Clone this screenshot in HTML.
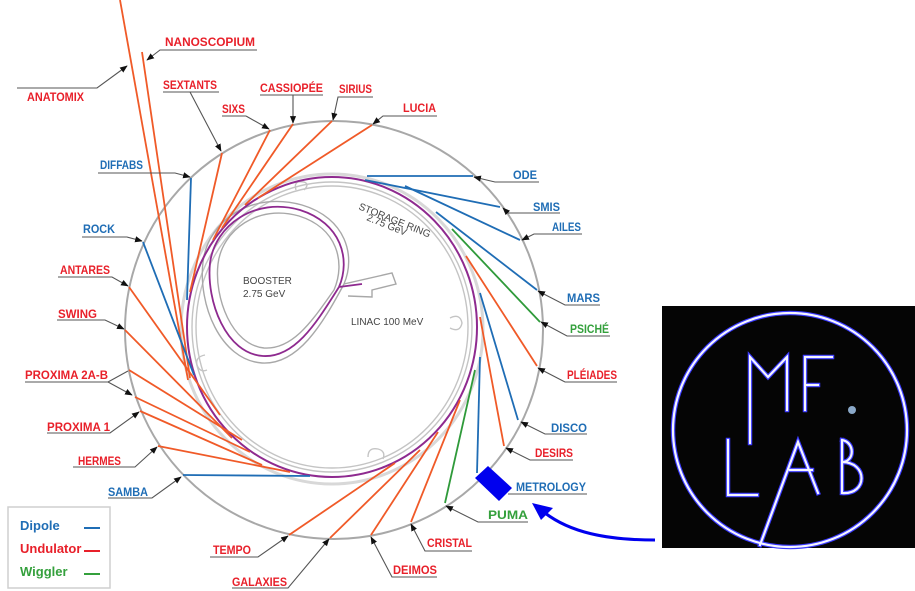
<!DOCTYPE html>
<html><head><meta charset="utf-8"><style>
html,body{margin:0;padding:0;background:#fff;}
svg{display:block;}
.t{font-family:"Liberation Sans",sans-serif;font-weight:bold;font-size:12px;}
.r{fill:#e8202a}.b{fill:#1f6db5}.g{fill:#34a03c}
.ul{stroke:#808080;stroke-width:1.6;fill:none}
.ld{stroke:#555;stroke-width:1.1;fill:none}
.o{stroke:#f05a28;stroke-width:1.8;fill:none}
.bl{stroke:#1f6db5;stroke-width:1.8;fill:none}
.gr{stroke:#2f9a3a;stroke-width:1.8;fill:none}
.gy{stroke:#c4c4c4;stroke-width:1.4;fill:none}
</style></head><body>
<svg width="915" height="591" viewBox="0 0 915 591" xmlns="http://www.w3.org/2000/svg">
<defs>
<marker id="a" viewBox="0 0 10 10" refX="9" refY="5" markerWidth="7" markerHeight="7" orient="auto-start-reverse"><path d="M0,1 L10,5 L0,9 z" fill="#111"/></marker>
</defs>
<rect width="915" height="591" fill="#fff"/>

<circle cx="334" cy="330" r="209" fill="none" stroke="#a8a8a8" stroke-width="2"/>

<ellipse cx="332" cy="327" rx="140" ry="145" class="gy"/>
<ellipse cx="332" cy="327" rx="136" ry="141" class="gy"/>
<ellipse cx="332" cy="329" rx="151" ry="155" stroke="#d8d8d8" stroke-width="3" fill="none"/>
<path d="M296,190 q-3,-10 8,-8 q6,2 0,8" class="gy"/>
<path d="M450,318 q10,-5 12,5 q-2,10 -12,5" class="gy"/>
<path d="M368,457 q0,-10 10,-8 q8,2 5,10" class="gy"/>
<path d="M205,355 q-10,2 -8,10 q3,8 10,5" class="gy"/>

<!-- booster -->
<path d="M344,284 C356,256 346,218 302,205 C252,191 208,220 203,262 C198,304 220,360 262,363 C298,365 322,325 344,284 L392,273 L396,284 L372,290 L372,297 L348,296" stroke="#a8a8a8" stroke-width="1.4" fill="none"/>
<path d="M334,290 C346,262 337,228 299,216 C258,204 222,230 218,264 C214,298 232,345 264,348 C294,350 314,318 334,290" stroke="#a8a8a8" stroke-width="1.4" fill="none"/>
<path d="M339,287 C351,259 341,223 300,210 C255,197 215,225 210,263 C206,301 226,354 263,356 C296,358 318,320 339,287 L362,284" stroke="#8e2a8f" stroke-width="1.8" fill="none"/>

<ellipse cx="332" cy="327" rx="145" ry="150" fill="none" stroke="#8e2a8f" stroke-width="2"/>

<line x1="120" y1="0" x2="188" y2="380" class="o"/>
<line x1="142" y1="52" x2="190" y2="378" class="o"/>

<line x1="222" y1="153" x2="190" y2="292" class="o"/>
<line x1="270" y1="130" x2="213" y2="240" class="o"/>
<line x1="293" y1="124" x2="222" y2="228" class="o"/>
<line x1="332" y1="121" x2="245" y2="205" class="o"/>
<line x1="372" y1="125" x2="258" y2="198" class="o"/>
<line x1="191" y1="178" x2="187" y2="300" class="bl"/>
<line x1="143" y1="242" x2="194" y2="375" class="bl"/>
<line x1="129" y1="287" x2="220" y2="415" class="o"/>
<line x1="125" y1="330" x2="232" y2="438" class="o"/>
<line x1="129" y1="370" x2="242" y2="440" class="o"/>
<line x1="135" y1="397" x2="250" y2="452" class="o"/>
<line x1="140" y1="411" x2="262" y2="465" class="o"/>
<line x1="158" y1="446" x2="290" y2="472" class="o"/>
<line x1="183" y1="475" x2="310" y2="476" class="bl"/>
<line x1="289" y1="535" x2="395" y2="463" class="o"/>
<line x1="330" y1="538" x2="420" y2="450" class="o"/>
<line x1="371" y1="535" x2="438" y2="432" class="o"/>
<line x1="411" y1="522" x2="460" y2="400" class="o"/>
<line x1="445" y1="503" x2="475" y2="370" class="gr"/>
<line x1="477" y1="473" x2="480" y2="357" class="bl"/>
<line x1="504" y1="446" x2="480" y2="317" class="o"/>
<line x1="518" y1="420" x2="480" y2="293" class="bl"/>
<line x1="537" y1="366" x2="466" y2="256" class="o"/>
<line x1="540" y1="322" x2="452" y2="229" class="gr"/>
<line x1="537" y1="290" x2="436" y2="212" class="bl"/>
<line x1="520" y1="240" x2="405" y2="186" class="bl"/>
<line x1="500" y1="207" x2="365" y2="180" class="bl"/>
<line x1="473" y1="176" x2="367" y2="176" class="bl"/>

<g font-family="Liberation Sans,sans-serif" font-size="10" fill="#444">
<text x="243" y="284">BOOSTER</text>
<text x="243" y="297">2.75 GeV</text>
<text x="351" y="325">LINAC 100 MeV</text>
<text transform="translate(358,209) rotate(22)">STORAGE RING</text>
<text transform="translate(366,220) rotate(22)">2.75 GeV</text>
</g>

<g class="t">
<text x="165" y="46" class="r" textLength="90" lengthAdjust="spacingAndGlyphs">NANOSCOPIUM</text>
<path d="M257,50 H160 L147,60" class="ld" marker-end="url(#a)"/>
<text x="27" y="101" class="r" textLength="57" lengthAdjust="spacingAndGlyphs">ANATOMIX</text>
<path d="M17,88 H97 L127,66" class="ld" marker-end="url(#a)"/>
<text x="163" y="89" class="r" textLength="54" lengthAdjust="spacingAndGlyphs">SEXTANTS</text>
<path d="M219,92 H163 M190,92 L221,151" class="ld" marker-end="url(#a)"/>
<text x="222" y="113" class="r" textLength="23" lengthAdjust="spacingAndGlyphs">SIXS</text>
<path d="M246,116 H222 M246,116 L269,129" class="ld" marker-end="url(#a)"/>
<text x="260" y="92" class="r" textLength="63" lengthAdjust="spacingAndGlyphs">CASSIOPÉE</text>
<path d="M260,95 H323 M293,95 L293,123" class="ld" marker-end="url(#a)"/>
<text x="339" y="93" class="r" textLength="33" lengthAdjust="spacingAndGlyphs">SIRIUS</text>
<path d="M373,97 H338 L333,120" class="ld" marker-end="url(#a)"/>
<text x="403" y="112" class="r" textLength="33" lengthAdjust="spacingAndGlyphs">LUCIA</text>
<path d="M437,116 H383 L373,124" class="ld" marker-end="url(#a)"/>
<text x="100" y="169" class="b" textLength="43" lengthAdjust="spacingAndGlyphs">DIFFABS</text>
<path d="M98,173 H175 L190,177" class="ld" marker-end="url(#a)"/>
<text x="83" y="233" class="b" textLength="32" lengthAdjust="spacingAndGlyphs">ROCK</text>
<path d="M82,237 H127 L142,241" class="ld" marker-end="url(#a)"/>
<text x="60" y="274" class="r" textLength="50" lengthAdjust="spacingAndGlyphs">ANTARES</text>
<path d="M58,277 H112 L128,286" class="ld" marker-end="url(#a)"/>
<text x="58" y="318" class="r" textLength="39" lengthAdjust="spacingAndGlyphs">SWING</text>
<path d="M57,320 H105 L124,329" class="ld" marker-end="url(#a)"/>
<text x="25" y="379" class="r" textLength="83" lengthAdjust="spacingAndGlyphs">PROXIMA 2A-B</text>
<path d="M25,382 H108 L128,371 M108,382 L132,395" class="ld" marker-end="url(#a)"/>
<text x="47" y="431" class="r" textLength="63" lengthAdjust="spacingAndGlyphs">PROXIMA 1</text>
<path d="M47,433 H110 L139,412" class="ld" marker-end="url(#a)"/>
<text x="78" y="465" class="r" textLength="43" lengthAdjust="spacingAndGlyphs">HERMES</text>
<path d="M73,467 H135 L157,447" class="ld" marker-end="url(#a)"/>
<text x="108" y="496" class="b" textLength="40" lengthAdjust="spacingAndGlyphs">SAMBA</text>
<path d="M108,498 H152 L181,477" class="ld" marker-end="url(#a)"/>
<text x="213" y="554" class="r" textLength="38" lengthAdjust="spacingAndGlyphs">TEMPO</text>
<path d="M210,557 H258 L288,536" class="ld" marker-end="url(#a)"/>
<text x="232" y="586" class="r" textLength="55" lengthAdjust="spacingAndGlyphs">GALAXIES</text>
<path d="M232,588 H288 L329,539" class="ld" marker-end="url(#a)"/>
<text x="393" y="574" class="r" textLength="44" lengthAdjust="spacingAndGlyphs">DEIMOS</text>
<path d="M437,577 H392 L371,537" class="ld" marker-end="url(#a)"/>
<text x="427" y="547" class="r" textLength="45" lengthAdjust="spacingAndGlyphs">CRISTAL</text>
<path d="M472,551 H425 L411,524" class="ld" marker-end="url(#a)"/>
<text x="513" y="179" class="b" textLength="24" lengthAdjust="spacingAndGlyphs">ODE</text>
<path d="M539,182 H495 L474,177" class="ld" marker-end="url(#a)"/>
<text x="533" y="211" class="b" textLength="27" lengthAdjust="spacingAndGlyphs">SMIS</text>
<path d="M560,213 H508 L503,208" class="ld" marker-end="url(#a)"/>
<text x="552" y="231" class="b" textLength="29" lengthAdjust="spacingAndGlyphs">AILES</text>
<path d="M582,234 H534 L522,240" class="ld" marker-end="url(#a)"/>
<text x="567" y="302" class="b" textLength="33" lengthAdjust="spacingAndGlyphs">MARS</text>
<path d="M600,305 H565 L538,291" class="ld" marker-end="url(#a)"/>
<text x="570" y="333" class="g" textLength="39" lengthAdjust="spacingAndGlyphs">PSICHÉ</text>
<path d="M610,336 H567 L541,322" class="ld" marker-end="url(#a)"/>
<text x="567" y="379" class="r" textLength="50" lengthAdjust="spacingAndGlyphs">PLÉIADES</text>
<path d="M617,382 H565 L538,368" class="ld" marker-end="url(#a)"/>
<text x="551" y="432" class="b" textLength="36" lengthAdjust="spacingAndGlyphs">DISCO</text>
<path d="M587,434 H545 L521,422" class="ld" marker-end="url(#a)"/>
<text x="535" y="457" class="r" textLength="38" lengthAdjust="spacingAndGlyphs">DESIRS</text>
<path d="M573,460 H530 L506,448" class="ld" marker-end="url(#a)"/>
<text x="516" y="491" class="b" textLength="70" lengthAdjust="spacingAndGlyphs">METROLOGY</text>
<path d="M587,494 H508" class="ld"/>
<text x="488" y="519" class="g" textLength="40" lengthAdjust="spacingAndGlyphs">PUMA</text>
<path d="M528,522 H478 L446,506" class="ld" marker-end="url(#a)"/>
</g>

<polygon points="475,478 488,466 512,488 499,501" fill="#0000ee"/>

<rect x="8" y="507" width="102" height="81" fill="#fff" stroke="#cfcfcf" stroke-width="1.5"/>
<g font-family="Liberation Sans,sans-serif" font-weight="bold" font-size="13">
<text x="20" y="530" fill="#1f6db5">Dipole</text>
<text x="20" y="553" fill="#e8202a">Undulator</text>
<text x="20" y="576" fill="#34a03c">Wiggler</text>
</g>
<line x1="84" y1="528" x2="100" y2="528" stroke="#1f6db5" stroke-width="2"/>
<line x1="84" y1="551" x2="100" y2="551" stroke="#e8202a" stroke-width="2"/>
<line x1="84" y1="574" x2="100" y2="574" stroke="#34a03c" stroke-width="2"/>

<path d="M655,540 C605,540 570,532 545,513" stroke="#0000ee" stroke-width="3" fill="none"/>
<polygon points="532,503 553,508 541,520" fill="#0000ee"/>

<rect x="662" y="306" width="253" height="242" fill="#050505"/>
<g fill="none" stroke-linecap="square">
<g stroke="#3a3aff" stroke-width="4.5">
<circle cx="790" cy="430" r="117"/>
<path d="M750,443 V357 L768,377 L787,357 V410"/>
<path d="M805,410 V357 H832 M805,385 H818"/>
<path d="M728,440 V495 H757"/>
<path d="M760,545 L798,442 L818,493 M790,470 H812"/>
<path d="M842,440 V493 M842,440 C855,442 855,462 842,462 C868,462 868,495 842,493"/>
</g>
<g stroke="#f4f4ff" stroke-width="2.2">
<circle cx="790" cy="430" r="117"/>
<path d="M750,443 V357 L768,377 L787,357 V410"/>
<path d="M805,410 V357 H832 M805,385 H818"/>
<path d="M728,440 V495 H757"/>
<path d="M760,545 L798,442 L818,493 M790,470 H812"/>
<path d="M842,440 V493 M842,440 C855,442 855,462 842,462 C868,462 868,495 842,493"/>
</g>
</g>
<circle cx="852" cy="410" r="4" fill="#8aa8c8"/>
</svg>
</body></html>
